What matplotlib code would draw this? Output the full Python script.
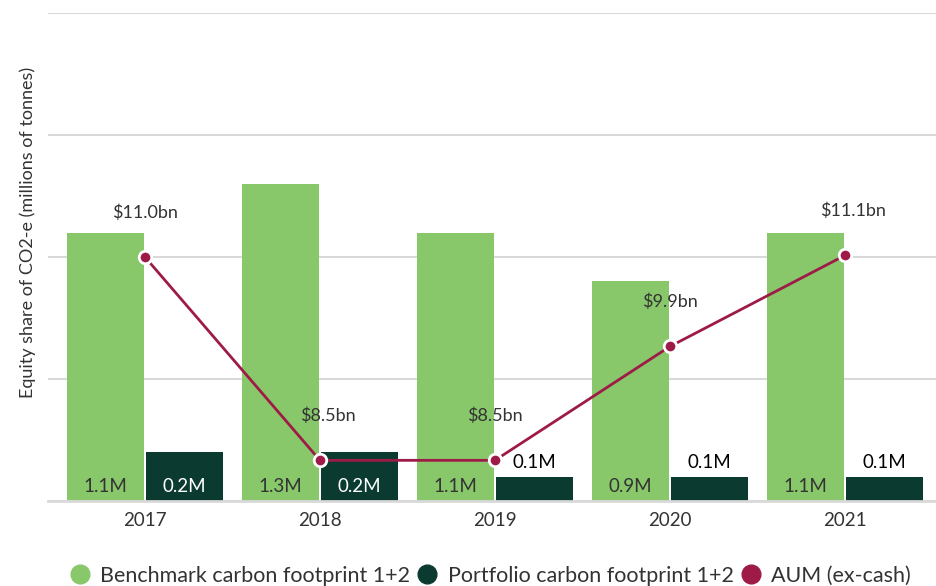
import numpy as np
import matplotlib.pyplot as plt
from matplotlib.lines import Line2D

plt.rcParams['font.family'] = ['Lato', 'DejaVu Sans']

# data
years = ["2017", "2018", "2019", "2020", "2021"]
benchmark = [1.1, 1.3, 1.1, 0.9, 1.1]   # millions of tonnes
portfolio = [0.2, 0.2, 0.1, 0.1, 0.1]
aum = [11.0, 8.5, 8.5, 9.9, 11.02]      # $bn
aum_labels = ["$11.0bn", "$8.5bn", "$8.5bn", "$9.9bn", "$11.1bn"]

green = "#88c86a"
dark = "#0b3b30"
crimson = "#9e1b47"
grid_col = "#d9d9d9"
txt = "#333333"

fig = plt.figure(figsize=(9.37, 5.86), dpi=100)
ax = fig.add_axes([48/937, 1-501/586, 1-48/937, (501-13)/586])

x = np.arange(len(years))
w = 0.44
off = 0.226
ax.bar(x - off, benchmark, w, color=green, zorder=2)
ax.bar(x + off, portfolio, w, color=dark, zorder=2)

ax.set_ylim(0, 2.0)
ax.set_xlim(-0.554, 4.526)
ax.set_yticks([0, 0.5, 1.0, 1.5, 2.0])
ax.yaxis.grid(True, color=grid_col, linewidth=1.5, zorder=0)
ax.set_yticklabels([])
ax.tick_params(axis='y', length=0)
ax.tick_params(axis='x', length=0, pad=8, labelsize=13.5, labelcolor=txt)
ax.set_xticks(x)
ax.set_xticklabels(years)
for s in ["top", "right", "left"]:
    ax.spines[s].set_visible(False)
ax.spines["bottom"].set_color(grid_col)
ax.spines["bottom"].set_linewidth(2)
ax.set_ylabel("Equity share of CO2-e (millions of tonnes)", fontsize=13, color=txt)
ax.yaxis.set_label_coords(-0.013, 0.55)

# bar value labels
for xi, v in zip(x, benchmark):
    ax.annotate(f"{v:.1f}M", (xi - off, 0), xytext=(0, 4), textcoords="offset points",
                ha="center", va="bottom", fontsize=13.5, color=txt, zorder=5)
for xi, v in zip(x, portfolio):
    if v >= 0.2:
        ax.annotate(f"{v:.1f}M", (xi + off, 0), xytext=(0, 4), textcoords="offset points",
                    ha="center", va="bottom", fontsize=13.5, color="white", zorder=5)
    else:
        ax.annotate(f"{v:.1f}M", (xi + off, v), xytext=(0, 4), textcoords="offset points",
                    ha="center", va="bottom", fontsize=13.5, color="black", zorder=5)

# AUM line on hidden secondary axis
ax2 = ax.twinx()
ax2.set_ylim(8, 14)
ax2.axis("off")
ax2.plot(x, aum, color=crimson, linewidth=2, marker="o", markersize=9,
         markerfacecolor=crimson, markeredgecolor="white", markeredgewidth=2, zorder=4)
label_dx = [0, 6, 0, 0, 6]
for xi, v, lab, dx in zip(x, aum, aum_labels, label_dx):
    ax2.annotate(lab, (xi, v), xytext=(dx, 32), textcoords="offset points",
                 ha="center", va="center", fontsize=13, color=txt)

handles = [
    Line2D([], [], marker="o", linestyle="", markersize=13.5, color=green),
    Line2D([], [], marker="o", linestyle="", markersize=13.5, color=dark),
    Line2D([], [], marker="o", linestyle="", markersize=13.5, color=crimson),
]
fig.legend(handles, ["Benchmark carbon footprint 1+2", "Portfolio carbon footprint 1+2", "AUM (ex-cash)"],
           loc="center", bbox_to_anchor=(490/937, 1-576/586), ncol=3, frameon=False,
           fontsize=15.5, handlelength=1.0, handletextpad=0.45, columnspacing=0.3,
           labelcolor=txt)

fig.savefig("out.png", dpi=100)
